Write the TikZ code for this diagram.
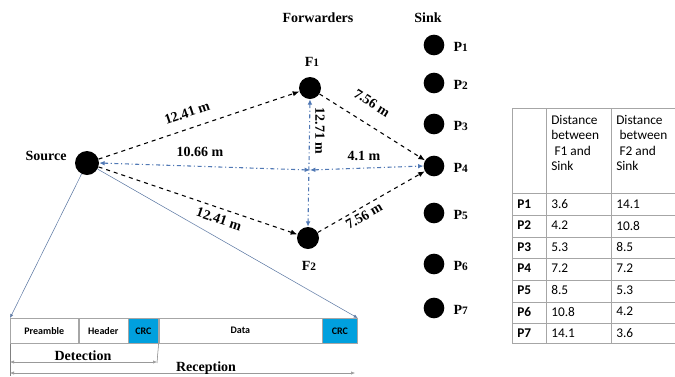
\documentclass[tikz,border=0pt]{standalone}
\usepackage{fontspec}
\setmainfont{Liberation Serif}
\newfontfamily\tabfont{Carlito}
\usetikzlibrary{arrows.meta}

\definecolor{crcblue}{RGB}{0,160,222}
\definecolor{rangeblue}{RGB}{80,120,180}

\tikzset{
  dot/.style={circle, fill=black, inner sep=0pt, minimum size=15.5pt},
  lbl/.style={font=\bfseries\fontsize{10.5}{12}\selectfont, inner sep=1pt},
  hop/.style={black, thick, dashed, -{Latex[length=5pt,width=4pt]}},
  spanline/.style={rangeblue, thick, dash dot, {Latex[length=4pt,width=3.5pt]}-{Latex[length=4pt,width=3.5pt]}},
  field/.style={draw=gray!70, anchor=north west, minimum height=18.75pt, inner sep=0pt,
    font=\tabfont\bfseries\fontsize{7.5}{9}\selectfont},
  crc/.style={field, fill=crcblue},
  cell/.style={anchor=west, inner sep=0pt, font=\tabfont\fontsize{10}{11.5}\selectfont, align=left}
}
\newcommand{\subidx}[1]{{\fontsize{8.5}{8}\selectfont #1}}

\begin{document}
\begin{tikzpicture}[x=0.75pt, y=-0.75pt]
  \useasboundingbox (0,0) rectangle (675,376);

  % Headings
  \node[lbl] (fwdtitle) at (318,18) {Forwarders};
  \node[lbl] (sinktitle) at (428,18) {Sink};

  % Nodes
  \node[dot, minimum size=18pt] (src) at (87,163) {};
  \node[lbl] (srclbl) at (46,156) {Source};
  \node[dot, minimum size=16.5pt] (f1) at (310,88) {};
  \node[lbl] (f1lbl) at (312,62) {F\subidx{1}};
  \node[dot, minimum size=16.5pt] (f2) at (308,238) {};
  \node[lbl] (f2lbl) at (309,266) {F\subidx{2}};

  % Sink positions
  \foreach \i/\y in {1/45, 2/83, 3/124, 4/166, 5/213, 6/264, 7/308} {
    \node[dot] (p\i) at (434,\y) {};
    \node[lbl, anchor=west] (p\i lbl) at (452,\y+2) {P\subidx{\i}};
  }

  % Hops
  \draw[hop] (src) -- (f1);
  \draw[hop] (src) -- (f2);
  \draw[hop] (f1) -- (p4);
  \draw[hop] (f2) -- (p4);

  % Distances
  \coordinate (mid) at (310,170);
  \draw[spanline] (src.east) -- (mid);
  \draw[spanline] (mid) -- (p4.west);
  \draw[spanline] (f1.south) -- (f2.north);

  \node[lbl, rotate=18.6] (d1) at (187,113) {12.41 m};
  \node[lbl, rotate=-18.7] (d2) at (219,219) {12.41 m};
  \node[lbl] (d3) at (200,152) {10.66 m};
  \node[lbl, rotate=-90] (d4) at (320,131) {12.71 m};
  \node[lbl] (d5) at (364,156) {4.1 m};
  \node[lbl, rotate=-32.6] (d6) at (372,103) {7.56 m};
  \node[lbl, rotate=30] (d7) at (364,216) {7.56 m};

  % Packet
  \node[field, minimum width=51pt] (pre) at (10,318) {Preamble};
  \node[field, minimum width=36.75pt] (hdr) at (pre.north east) {Header};
  \node[crc, minimum width=22.5pt] (crc1) at (hdr.north east) {CRC};
  \node[field, minimum width=122.25pt] (data) at (crc1.north east) {Data};
  \node[crc, minimum width=26.25pt] (crc2) at (data.north east) {CRC};

  \draw[rangeblue!70!gray, thin, -{Latex[length=3pt,width=2.5pt]}] (src) -- (pre.north west);
  \draw[rangeblue!70!gray, thin, -{Latex[length=3pt,width=2.5pt]}] (src) -- (crc2.north east);

  % Detection / Reception
  \coordinate (detL) at (10,362);
  \coordinate (detR) at (157,362);
  \coordinate (recL) at (10,373);
  \coordinate (recR) at (355,373);
  \draw[gray] (pre.south west) -- (10,376);
  \draw[gray] (crc1.south east) -- (157,363);
  \draw[gray!80, {Latex[length=3pt,width=2.5pt]}-{Latex[length=3pt,width=2.5pt]}] (detL) -- (detR);
  \draw[gray!80, {Latex[length=3pt,width=2.5pt]}-{Latex[length=3pt,width=2.5pt]}] (recL) -- (recR);
  \node[lbl] (detlbl) at (83,356) {Detection};
  \node[lbl] (reclbl) at (206,368) {Reception};

  % Table
  \draw[gray!70] (677,108) -- (512,108) -- (512,343) -- (677,343);
  \draw[gray!70] (546,108) -- (546,343);
  \draw[gray!70] (611,108) -- (611,343);
  \foreach \y in {193,215,237,258,280,302,323} {
    \draw[gray!70] (512,\y) -- (677,\y);
  }
  \node[cell] (h1) at (551,143) {Distance\\between\\\hspace*{0.25em}F1 and\\Sink};
  \node[cell] (h2) at (616,143) {Distance\\\hspace*{0.25em}between\\\hspace*{0.25em}F2 and\\Sink};
  \foreach \i/\a/\b [evaluate=\i as \y using 182.5+21.5*\i] in
      {1/3.6/14.1, 2/4.2/10.8, 3/5.3/8.5, 4/7.2/7.2, 5/8.5/5.3, 6/10.8/4.2, 7/14.1/3.6} {
    \node[cell, font=\tabfont\bfseries\fontsize{10}{12}\selectfont] (r\i) at (517,\y) {P\i};
    \node[cell] (a\i) at (551,\y) {\a};
    \node[cell] (b\i) at (616,\y) {\b};
  }
\end{tikzpicture}
\end{document}
